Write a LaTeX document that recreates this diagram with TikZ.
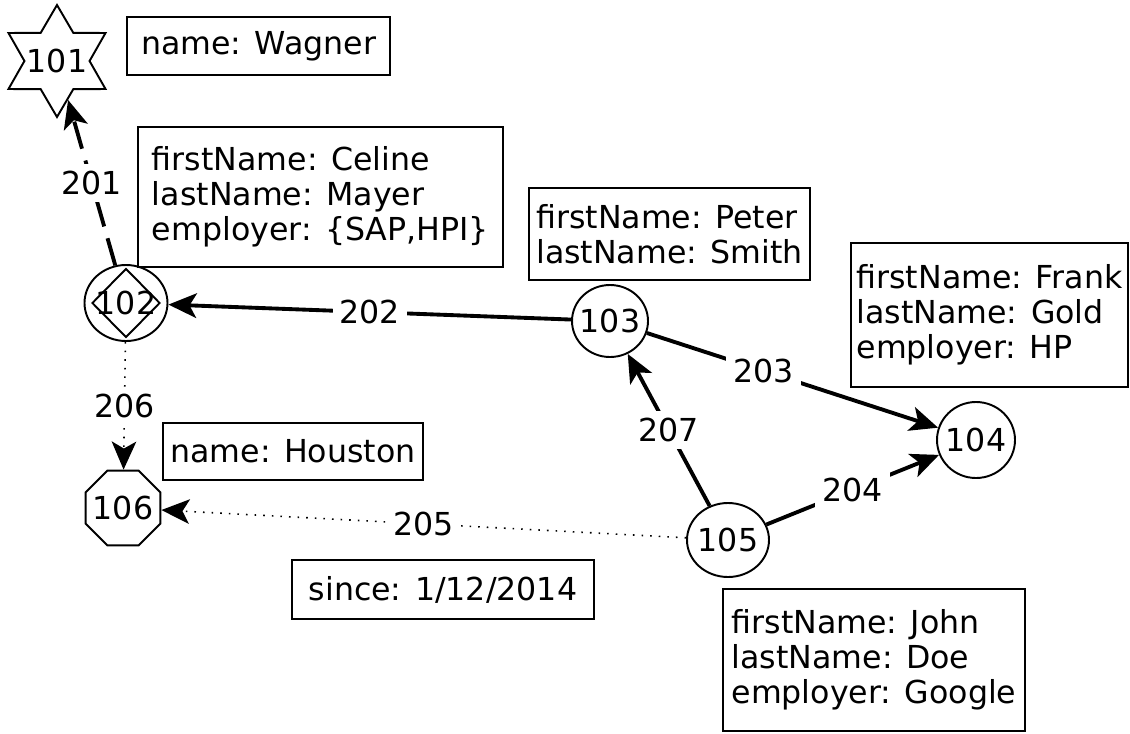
\documentclass[tikz,border=0pt]{standalone}
\usepackage{fontspec}
\setmainfont{DejaVu Sans}
\usetikzlibrary{shapes.geometric}
\usetikzlibrary{arrows.meta}

\begin{document}
\begin{tikzpicture}[every node/.style={font=\fontsize{18}{20}\selectfont, inner sep=0pt},
    vertex/.style={draw, ellipse, line width=1.1pt, inner xsep=-2pt},
    prop/.style={draw, rectangle, line width=1.6pt, align=left},
    edge/.style={line width=2.2pt, -{Stealth[length=16pt, width=14pt, inset=4pt]}},
    weak/.style={line width=0.9pt, dash pattern=on 0.9pt off 4pt, -{Stealth[length=16pt, width=14pt, inset=4pt]}},
    lbl/.style={fill=white, inner sep=4pt}]
      \useasboundingbox (0, 0) rectangle (22.6, -14.66);

      \node[draw, star, star points=6, star point ratio=1.72, minimum size=2.24cm, line width=1.1pt, label=center:101] (101) at (1.14, -1.22){};
      \node[vertex, minimum width=1.66cm, minimum height=1.52cm] (102) at (2.52, -6.06){102};
      \node[draw, diamond, minimum width=1.36cm, minimum height=1.38cm, line width=1.1pt] (102d) at (2.52, -6.06){};
      \node[vertex, minimum width=1.52cm, minimum height=1.44cm] (103) at (12.2, -6.42){103};
      \node[vertex, minimum width=1.56cm, minimum height=1.52cm] (104) at (19.52, -8.8){104};
      \node[vertex, minimum width=1.64cm, minimum height=1.48cm] (105) at (14.56, -10.8){105};
      \node[draw, regular polygon, regular polygon sides=8, minimum size=1.62cm, line width=1.1pt, label=center:106] (106) at (2.46, -10.16){};

      \node[prop, minimum width=5.26cm, minimum height=1.16cm] (p101) at (5.17, -0.92){name: Wagner};
      \node[prop, minimum width=7.3cm, minimum height=2.8cm] (p102) at (6.41, -3.94){firstName: Celine\\lastName: Mayer\\employer: \{SAP,HPI\}};
      \node[prop, minimum width=5.62cm, minimum height=1.84cm] (p103) at (13.39, -4.68){firstName: Peter\\lastName: Smith};
      \node[prop, minimum width=5.54cm, minimum height=2.88cm] (p104) at (19.79, -6.3){firstName: Frank\\lastName: Gold\\employer: HP};
      \node[prop, minimum width=5.2cm, minimum height=1.14cm] (p106) at (5.86, -9.03){name: Houston};
      \node[prop, minimum width=6.04cm, minimum height=1.18cm] (p205) at (8.86, -11.79){since: 1/12/2014};
      \node[prop, minimum width=6.04cm, minimum height=2.84cm] (p105) at (17.48, -13.2){firstName: John\\lastName: Doe\\employer: Google};

      \draw[edge, dash pattern=on 16pt off 7pt] (102) to node[lbl]{201} (101);
      \draw[edge] (103) to node[lbl]{202} (102);
      \draw[edge] (103) to node[lbl, pos=0.4]{203} (104);
      \draw[edge] (105) to node[lbl]{204} (104);
      \draw[weak] (105) to node[lbl]{205} (106);
      \draw[weak] (102) to node[lbl]{206} (106);
      \draw[edge] (105) to node[lbl]{207} (103);

    \end{tikzpicture}
\end{document}
